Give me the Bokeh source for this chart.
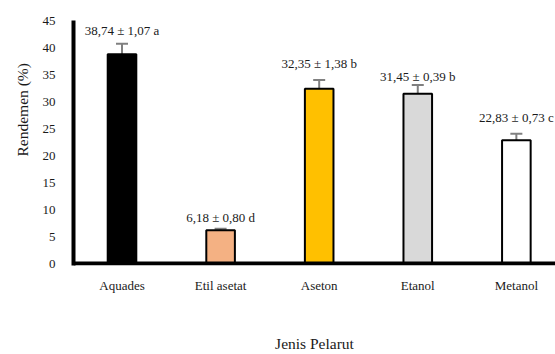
from bokeh.plotting import figure
from bokeh.models import ColumnDataSource, Whisker, TeeHead, Range1d, FixedTicker, Title, Span
from bokeh.core.properties import value
from bokeh.embed import file_html
from bokeh.resources import INLINE

# Data
solvents = ["Aquades", "Etil asetat", "Aseton", "Etanol", "Metanol"]
rendemen = [38.74, 6.18, 32.35, 31.45, 22.83]
sd_text = [1.07, 0.80, 1.38, 0.39, 0.73]
notation = ["a", "d", "b", "b", "c"]
err_drawn = [1.95, 0.25, 1.65, 1.6, 1.2]   # error-bar half lengths as drawn
y_ticks = [0, 5, 10, 15, 20, 25, 30, 35, 40, 45]

# Styles
bar_colors = ["#000000", "#F4B183", "#FFC000", "#D9D9D9", "#FFFFFF"]
label_offset = [4.4, 2.3, 4.6, 3.15, 4.2]
FONT = "Liberation Serif"
TXT = "#1a1a1a"

xs = list(range(len(solvents)))
labels = [f"{v:.2f}".replace(".", ",") + " \u00b1 " + f"{s:.2f}".replace(".", ",") + " " + n
          for v, s, n in zip(rendemen, sd_text, notation)]
src = ColumnDataSource(dict(
    x=xs, top=rendemen, color=bar_colors,
    upper=[v + e for v, e in zip(rendemen, err_drawn)],
    lower=[v - e for v, e in zip(rendemen, err_drawn)],
    ly=[v + o for v, o in zip(rendemen, label_offset)],
    txt=labels,
))

p = figure(width=555, height=354, output_backend="svg", toolbar_location=None,
           x_range=Range1d(-0.492, 4.397), y_range=Range1d(-0.357, 45),
           min_border_left=73, min_border_right=0, min_border_top=20, min_border_bottom=80)
p.outline_line_color = None
p.xgrid.visible = False
p.ygrid.visible = False
p.background_fill_color = "white"
p.border_fill_color = "white"

p.vbar(x="x", top="top", width=0.29, fill_color="color", line_color="black",
       line_width=2, source=src)

# baseline (x-axis line) at y = 0
p.add_layout(Span(location=0, dimension="width", line_color="black", line_width=4))

w = Whisker(base="x", upper="upper", lower="lower", source=src,
            line_color="#808080", line_width=2,
            upper_head=TeeHead(size=12, line_color="#808080", line_width=2),
            lower_head=TeeHead(size=12, line_color="#808080", line_width=2))
p.add_layout(w)

p.text(x="x", y="ly", text="txt", source=src, text_font=value(FONT),
       text_font_size="13px", text_color=TXT, text_align="center",
       text_baseline="middle")

for ax in (p.xaxis[0], p.yaxis[0]):
    ax.axis_line_width = 4
    ax.axis_line_color = "black"
    ax.major_tick_line_color = None
    ax.minor_tick_line_color = None
    ax.major_label_text_font = FONT
    ax.major_label_text_font_size = "13px"
    ax.major_label_text_color = TXT

p.xaxis.axis_line_color = None
p.xaxis.ticker = FixedTicker(ticks=xs)
p.xaxis.major_label_overrides = {i: s for i, s in enumerate(solvents)}
p.xaxis.major_label_standoff = 6
p.xaxis.bounds = (-0.562, 4.0)
p.xaxis.axis_label = "Jenis Pelarut"
p.xaxis.axis_label_text_font = FONT
p.xaxis.axis_label_text_font_size = "15.5px"
p.xaxis.axis_label_text_font_style = "normal"
p.xaxis.axis_label_text_color = TXT
p.xaxis.axis_label_standoff = 39

p.yaxis.ticker = FixedTicker(ticks=y_ticks)
p.yaxis.major_label_standoff = 12

ytitle = Title(text="Rendemen (%)", align="left", offset=109, standoff=18,
               text_font=FONT, text_font_size="15.5px", text_font_style="normal",
               text_color=TXT)
p.add_layout(ytitle, "left")

open("out.html", "w").write(file_html(p, INLINE))
